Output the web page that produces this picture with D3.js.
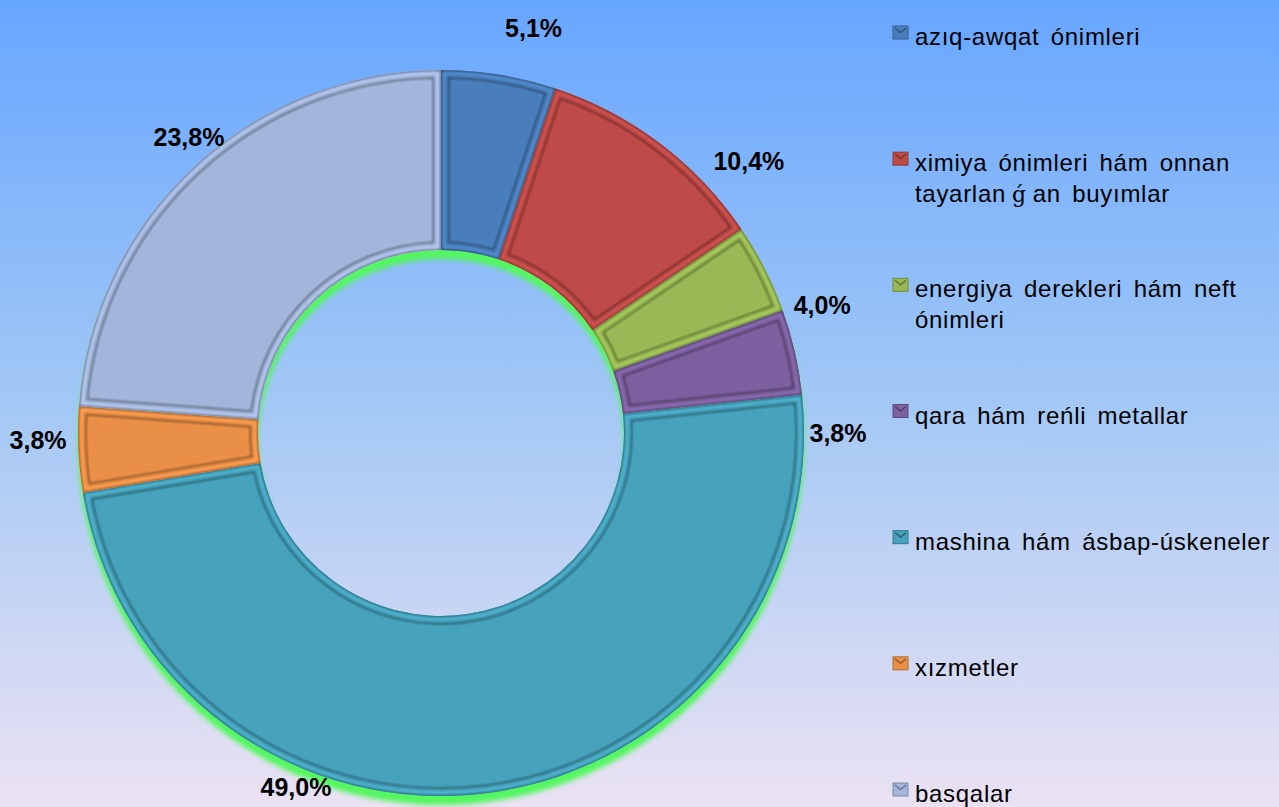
<!DOCTYPE html>
<html>
<head>
<meta charset="utf-8">
<script src="https://cdn.jsdelivr.net/npm/d3@7"></script>
<style>
  html, body { margin: 0; padding: 0; overflow: hidden; }
  svg { display: block; }
</style>
</head>
<body>
<script>
// categories, shares (in %), slice colours
var categories = [
  "azıq-awqat ónimleri",
  "ximiya ónimleri hám onnan\ntayarlanǵan buyımlar",
  "energiya derekleri hám neft\nónimleri",
  "qara hám reńli metallar",
  "mashina hám ásbap-úskeneler",
  "xızmetler",
  "basqalar"
];
var shares = [5.1, 10.4, 4.0, 3.8, 49.0, 3.8, 23.8];
var colors = ["#4a7ebb", "#be4b48", "#98b954", "#7d60a0", "#46a2bb", "#ea8f47", "#a2b5da"];

var w = 1279;
var h = 807;
var cx = 441, cy = 433;
var rOuter = 363, rInner = 183;

// labels were moved by hand in the original, so nudge them off the mid angle
var labelShift = [3.7, 11.4, 8.4, 12.9, 30, 1.6, 2.5]; // degrees
var labelRadius = [415, 411, 402, 397, 383, 403, 389];

var locale = d3.formatLocale({decimal: ",", thousands: " ", grouping: [3], currency: ["", ""]});
var fmt = locale.format(".1f");

var svg = d3.select("body")
    .append("svg")
    .attr("width", w)
    .attr("height", h);

var defs = svg.append("defs");

var bg = defs.append("linearGradient")
    .attr("id", "bg")
    .attr("x1", 0).attr("y1", 0).attr("x2", 0).attr("y2", 1);
bg.append("stop").attr("offset", "0%").attr("stop-color", "#67a6ff");
bg.append("stop").attr("offset", "50%").attr("stop-color", "#a3c8f5");
bg.append("stop").attr("offset", "100%").attr("stop-color", "#ebe2f3");

// green glow under the ring
var glow = defs.append("filter")
    .attr("id", "glow")
    .attr("x", "-10%").attr("y", "-10%").attr("width", "120%").attr("height", "120%");
glow.append("feDropShadow")
    .attr("dx", 0).attr("dy", 9)
    .attr("stdDeviation", 2.5)
    .attr("flood-color", "#52f75e")
    .attr("flood-opacity", 1);

var soft = defs.append("filter").attr("id", "soft");
soft.append("feGaussianBlur").attr("stdDeviation", 0.9);

svg.append("rect")
    .attr("width", w)
    .attr("height", h)
    .attr("fill", "url(#bg)");

var pie = d3.pie()
    .sort(null)
    .value(function(d) { return d; })
    .startAngle(0)
    .endAngle(2 * Math.PI);

var arcs = pie(shares);

var arc = d3.arc()
    .innerRadius(rInner)
    .outerRadius(rOuter);

// inner frame of the bevel
var inset = d3.arc()
    .innerRadius(rInner + 8)
    .outerRadius(rOuter - 8)
    .padRadius(100)
    .padAngle(0.16);

var ring = svg.append("g")
    .attr("transform", "translate(" + cx + "," + cy + ")");

ring.append("g")
    .attr("filter", "url(#glow)")
    .selectAll("path")
    .data(arcs)
    .enter()
    .append("path")
    .attr("d", arc)
    .attr("fill", function(d, i) { return colors[i]; });

ring.selectAll("clipPath")
    .data(arcs)
    .enter()
    .append("clipPath")
    .attr("id", function(d, i) { return "clip" + i; })
    .append("path")
    .attr("d", arc);

var bevel = ring.selectAll("g.bevel")
    .data(arcs)
    .enter()
    .append("g")
    .attr("class", "bevel")
    .attr("clip-path", function(d, i) { return "url(#clip" + i + ")"; });

// light rim along the edge
bevel.append("path")
    .attr("d", arc)
    .attr("fill", "none")
    .attr("stroke", function(d, i) { return d3.color(colors[i]).brighter(0.3); })
    .attr("stroke-width", 9)
    .attr("filter", "url(#soft)");

// dark outer edge
bevel.append("path")
    .attr("d", arc)
    .attr("fill", "none")
    .attr("stroke", function(d, i) { return d3.color(colors[i]).darker(1.2); })
    .attr("stroke-width", 2.5)
    .attr("filter", "url(#soft)");

// dark line of the inner frame
bevel.append("path")
    .attr("d", inset)
    .attr("fill", "none")
    .attr("stroke", function(d, i) { return d3.color(colors[i]).darker(1.1); })
    .attr("stroke-width", 2.4)
    .attr("filter", "url(#soft)");

// light line just inside it
bevel.append("path")
    .attr("d", d3.arc().innerRadius(rInner + 10.5).outerRadius(rOuter - 10.5).padRadius(100).padAngle(0.21))
    .attr("fill", "none")
    .attr("stroke", function(d, i) { return d3.color(colors[i]).brighter(0.3); })
    .attr("stroke-width", 1.2)
    .attr("opacity", 0.6)
    .attr("filter", "url(#soft)");

// percentage labels
ring.selectAll("text")
    .data(arcs)
    .enter()
    .append("text")
    .attr("x", function(d, i) {
        var a = (d.startAngle + d.endAngle) / 2 + labelShift[i] * Math.PI / 180;
        return labelRadius[i] * Math.sin(a);
    })
    .attr("y", function(d, i) {
        var a = (d.startAngle + d.endAngle) / 2 + labelShift[i] * Math.PI / 180;
        return -labelRadius[i] * Math.cos(a);
    })
    .attr("dy", "0.36em")
    .attr("text-anchor", "middle")
    .attr("font-family", "Liberation Sans, Arial, sans-serif")
    .attr("font-weight", "bold")
    .attr("font-size", 25)
    .attr("fill", "#000")
    .text(function(d) { return fmt(d.data) + "%"; });

// legend
var ly = d3.scalePoint()
    .domain(categories)
    .range([45, 802]);

var legend = svg.selectAll("g.legend")
    .data(categories)
    .enter()
    .append("g")
    .attr("class", "legend")
    .attr("transform", function(d) { return "translate(893," + ly(d) + ")"; });

legend.append("rect")
    .attr("x", 0)
    .attr("y", -19)
    .attr("width", 15)
    .attr("height", 13)
    .attr("fill", function(d, i) { return colors[i]; })
    .attr("stroke", function(d, i) { return d3.color(colors[i]).darker(0.8); })
    .attr("stroke-width", 1);

legend.append("path")
    .attr("d", "M2,-17L7.5,-12.5L13,-17")
    .attr("fill", "none")
    .attr("stroke", function(d, i) { return d3.color(colors[i]).darker(1.2); })
    .attr("stroke-width", 1.5);

var ltext = legend.append("text")
    .attr("x", 22)
    .attr("font-family", "Liberation Sans, Arial, sans-serif")
    .attr("font-size", 24)
    .attr("letter-spacing", 0.7)
    .attr("word-spacing", 4)
    .attr("fill", "#000");

ltext.each(function(d) {
    var t = d3.select(this);
    d.split("\n").forEach(function(line, k) {
        var parts = line.split("ǵ");
        parts.forEach(function(p, j) {
            var s = t.append("tspan").text(p);
            if (j === 0) s.attr("x", 22).attr("dy", k === 0 ? 0 : 31);
            else s.attr("dx", 6);
            if (j < parts.length - 1) {
                t.append("tspan")
                    .attr("dx", 6)
                    .attr("font-family", "DejaVu Serif, serif")
                    .attr("font-size", 22)
                    .text("ǵ");
            }
        });
    });
});
</script>
</body>
</html>
